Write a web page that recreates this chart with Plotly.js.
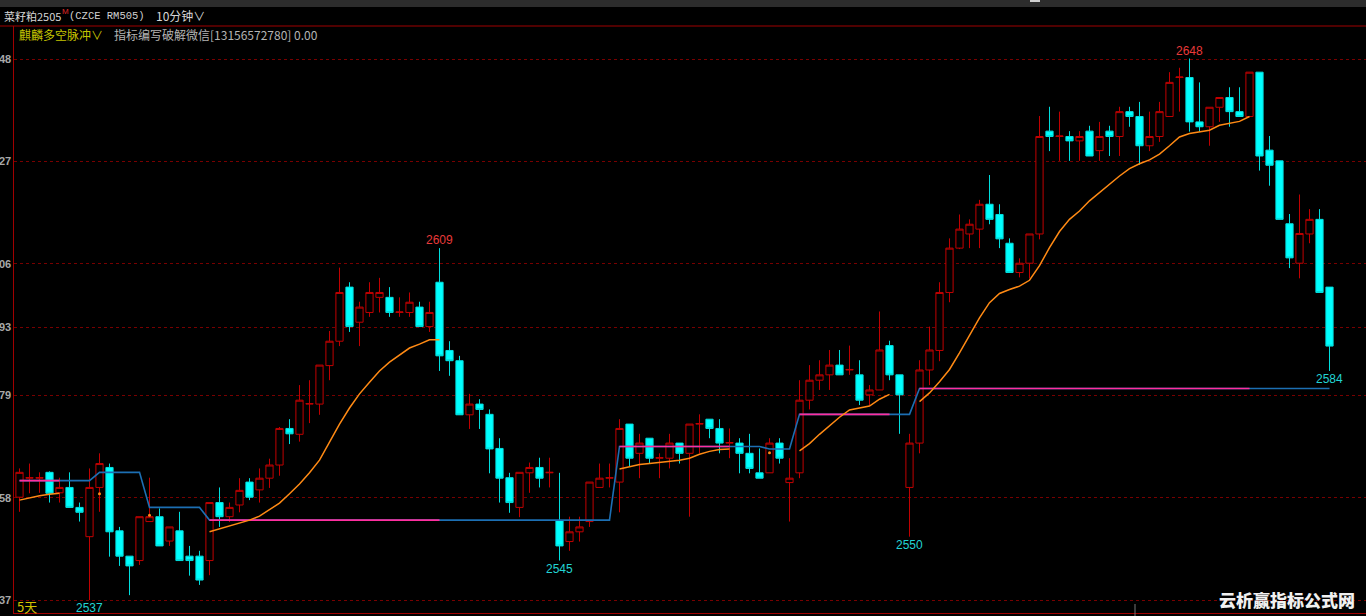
<!DOCTYPE html>
<html><head><meta charset="utf-8">
<script src="https://cdn.plot.ly/plotly-3.0.1.min.js"></script>
<style>html,body{margin:0;padding:0;background:#000;overflow:hidden}</style>
</head><body><div id="chart" style="width:1366px;height:616px"></div>
<script>
// ---- data ----
const openP = [2558.1,2562.0,2562.0,2563.2,2559.0,2560.1,2556.0,2550.0,2560.1,2564.2,
2551.2,2546.0,2545.1,2553.1,2554.1,2549.1,2551.2,2546.0,2546.0,2545.1,
2557.0,2554.1,2556.5,2561.2,2559.6,2562.0,2564.7,2572.2,2571.0,2577.2,
2577.2,2585.1,2590.1,2601.2,2594.0,2596.0,2599.1,2599.1,2596.0,2596.0,
2597.1,2593.1,2602.2,2588.2,2586.1,2575.0,2577.2,2575.1,2568.1,2562.1,
2556.0,2563.1,2564.2,2563.1,2553.3,2549.0,2551.0,2553.1,2560.1,2562.0,
2561.2,2573.1,2567.1,2570.2,2566.1,2566.1,2569.2,2567.1,2573.1,2574.1,
2572.2,2569.2,2569.2,2567.1,2563.1,2563.1,2569.2,2561.1,2563.1,2578.0,
2582.1,2583.2,2585.2,2584.2,2583.2,2579.1,2580.1,2589.2,2583.2,2560.1,
2569.2,2584.2,2588.2,2600.1,2609.2,2612.1,2613.1,2618.2,2616.1,2610.2,
2604.2,2606.1,2612.1,2633.2,2632.1,2632.1,2631.2,2633.2,2629.2,2633.2,
2632.1,2637.2,2636.2,2630.2,2632.1,2636.2,2644.2,2644.2,2635.1,2634.1,
2638.1,2640.1,2637.2,2636.2,2645.3,2629.3,2627.1,2614.2,2606.1,2612.1,
2615.1,2601.2];
const highP = [2564.0,2565.0,2563.2,2563.4,2562.1,2563.2,2557.0,2564.0,2567.1,2565.0,
2552.0,2546.0,2554.1,2562.1,2555.8,2552.0,2555.1,2548.1,2547.1,2557.0,
2560.1,2557.0,2562.0,2562.0,2564.0,2566.0,2572.5,2574.1,2581.1,2582.1,
2585.2,2592.2,2605.2,2602.2,2598.2,2602.2,2603.1,2601.2,2599.1,2600.1,
2598.2,2598.2,2609.2,2590.1,2587.1,2579.3,2578.2,2576.1,2570.2,2563.1,
2563.2,2565.2,2566.2,2566.2,2563.1,2554.1,2554.1,2561.2,2565.0,2565.0,
2574.1,2573.1,2571.1,2570.2,2567.1,2571.1,2569.2,2573.1,2575.1,2574.1,
2574.1,2572.2,2570.2,2571.1,2568.1,2570.2,2570.2,2566.1,2582.1,2585.2,
2586.2,2588.3,2588.3,2589.2,2586.2,2581.1,2596.2,2590.2,2583.2,2571.1,
2586.2,2593.1,2602.2,2611.2,2616.1,2615.1,2619.1,2624.2,2618.2,2611.2,
2607.1,2612.1,2636.3,2638.2,2637.2,2633.2,2633.2,2634.3,2635.1,2634.3,
2638.2,2638.2,2639.2,2637.2,2639.2,2645.3,2646.2,2648.1,2643.2,2638.1,
2640.1,2642.2,2642.2,2645.3,2645.3,2632.2,2627.1,2616.2,2620.2,2617.2,
2617.2,2601.2];
const lowP = [2555.1,2558.9,2559.0,2557.0,2557.0,2556.0,2553.1,2537.0,2555.1,2545.9,
2544.0,2538.0,2544.2,2553.1,2548.1,2548.1,2545.1,2542.0,2540.1,2542.1,
2552.0,2553.0,2555.0,2557.5,2557.0,2560.0,2562.5,2569.0,2569.5,2573.3,
2575.0,2582.1,2589.1,2592.0,2589.1,2595.1,2596.0,2595.1,2595.1,2595.1,
2593.1,2592.0,2584.0,2583.0,2575.0,2572.1,2572.1,2563.0,2557.0,2554.9,
2554.0,2559.0,2560.1,2560.1,2545.1,2547.1,2549.0,2552.0,2560.1,2560.1,
2555.0,2564.4,2562.0,2565.0,2562.0,2564.0,2565.0,2554.1,2567.1,2570.2,
2567.1,2566.1,2563.0,2563.0,2562.0,2563.1,2565.0,2553.1,2562.0,2576.1,
2580.1,2580.1,2583.2,2583.2,2577.0,2577.0,2580.1,2582.1,2571.1,2550.0,
2567.1,2581.1,2586.0,2598.1,2609.0,2609.2,2609.2,2614.1,2609.2,2604.2,
2603.2,2603.0,2611.0,2629.1,2627.1,2627.1,2627.1,2628.1,2627.1,2628.1,
2628.1,2634.1,2626.3,2629.1,2631.0,2636.2,2637.2,2633.1,2633.1,2630.2,
2635.1,2634.1,2636.2,2636.2,2625.1,2622.0,2615.1,2605.1,2603.0,2610.2,
2600.1,2584.0];
const closeP = [2563.2,2562.1,2562.1,2558.9,2560.1,2556.0,2555.0,2560.1,2565.0,2551.0,
2546.0,2544.0,2554.1,2554.1,2548.1,2552.0,2545.1,2545.1,2541.1,2557.0,
2554.1,2556.0,2559.5,2558.1,2562.0,2564.7,2572.2,2571.1,2578.0,2577.3,
2585.2,2590.1,2600.1,2593.1,2597.1,2600.1,2600.1,2596.0,2596.1,2598.1,
2593.1,2596.0,2587.1,2586.1,2575.0,2577.2,2576.1,2568.0,2562.0,2557.0,
2563.2,2564.2,2562.0,2563.2,2548.1,2551.0,2552.0,2561.2,2562.0,2562.1,
2572.2,2566.1,2569.2,2566.1,2566.2,2569.2,2567.1,2573.1,2573.2,2572.2,
2569.2,2569.3,2567.1,2564.0,2562.0,2569.2,2566.1,2562.0,2578.0,2582.1,
2583.2,2585.2,2583.2,2584.3,2578.0,2580.1,2588.3,2583.2,2579.1,2569.2,
2584.2,2588.3,2600.1,2609.2,2613.1,2614.1,2618.2,2615.1,2611.1,2604.2,
2606.1,2612.1,2632.1,2632.1,2632.2,2631.2,2632.1,2628.1,2632.1,2632.1,
2637.2,2636.2,2630.2,2632.1,2637.2,2643.2,2644.3,2635.1,2634.1,2638.1,
2640.1,2637.2,2636.2,2645.3,2628.1,2626.2,2615.1,2607.2,2612.2,2615.1,
2600.1,2589.1];
// step (stop) line
const stopLine = [2561.5,2561.5,2561.5,2561.5,2561.5,2561.5,2561.5,2561.5,2563.2,2563.2,
2563.2,2563.2,2563.2,2556.0,2556.0,2556.0,2556.0,2556.0,2556.0,2553.4,
2553.4,2553.4,2553.4,2553.4,2553.4,2553.4,2553.4,2553.4,2553.4,2553.4,
2553.4,2553.4,2553.4,2553.4,2553.4,2553.4,2553.4,2553.4,2553.4,2553.4,
2553.4,2553.4,2553.4,2553.4,2553.4,2553.4,2553.4,2553.4,2553.4,2553.4,
2553.4,2553.4,2553.4,2553.4,2553.4,2553.4,2553.4,2553.4,2553.4,2553.4,
2568.5,2568.5,2568.5,2568.5,2568.5,2568.5,2568.5,2568.5,2568.5,2568.5,
2568.5,2568.5,2568.5,2568.5,2568.5,2568.0,2568.0,2568.0,2575.1,2575.1,
2575.1,2575.1,2575.1,2575.1,2575.1,2575.1,2575.1,2575.1,2575.1,2575.1,
2580.4,2580.4,2580.4,2580.4,2580.4,2580.4,2580.4,2580.4,2580.4,2580.4,
2580.4,2580.4,2580.4,2580.4,2580.4,2580.4,2580.4,2580.4,2580.4,2580.4,
2580.4,2580.4,2580.4,2580.4,2580.4,2580.4,2580.4,2580.4,2580.4,2580.4,
2580.4,2580.4,2580.4,2580.4,2580.4,2580.4,2580.4,2580.4,2580.4,2580.4,
2580.4,2580.4];
// trend line, shown only in the long state (null = hidden)
const maLine = [2557.5,2558.0,2558.4,2558.7,2558.9,null,null,null,2558.8,null,
null,null,null,2554.4,null,null,null,null,null,2551.0,
2551.6,2552.2,2552.8,2553.4,2554.2,2555.5,2556.9,2558.8,2560.8,2563.1,
2565.7,2569.4,2573.1,2576.4,2579.3,2581.7,2584.0,2585.8,2587.3,2588.7,
2589.5,2590.4,2590.4,null,null,null,null,null,null,null,
null,null,null,null,null,null,null,null,null,null,
2563.9,2564.3,2564.8,2565.0,2565.2,2565.4,2565.7,2566.1,2566.9,2567.5,
2567.9,2568.0,null,null,null,2567.2,null,null,2567.6,2569.1,
2571.0,2572.8,2574.5,2576.0,2576.4,2576.8,2578.2,2579.2,null,null,
2577.7,2579.5,2581.8,2584.3,2587.7,2591.4,2594.9,2598.0,2599.9,2600.7,
2601.4,2602.6,2605.6,2609.3,2612.6,2615.1,2616.8,2618.9,2620.6,2622.3,
2624.0,2625.5,2626.5,2627.3,2628.5,2630.2,2632.0,2632.7,2633.1,2633.4,
2634.4,2634.8,2635.2,2636.2,null,null,null,null,null,null,
null,null];
const tickVals = [2648,2627,2606,2593,2579,2558,2537];
const tickText = ['48','27','06','93','79','58','37'];
const highMarks = [{i:117,v:2648.1,t:'2648'},{i:42,v:2609.2,t:'2609'}];
const lowMarks = [{i:54,v:2545.1,t:'2545'},{i:89,v:2550.0,t:'2550'},{i:7,v:2537.0,t:'2537'},{i:131,v:2584.0,t:'2584'}];

// ---- build ----
const idx = openP.map((_, i) => i);
const magenta = stopLine.map((v, i) => maLine[i] === null ? null : v);
const isoX = [], isoY = [];
maLine.forEach((v, i) => {
  if (v !== null && (i === 0 || maLine[i-1] === null) && (i === maLine.length-1 || maLine[i+1] === null)) { isoX.push(i); isoY.push(v); }
});

const RED = '#c00000';
const traces = [
  {type:'candlestick', x:idx, open:openP, high:highP, low:lowP, close:closeP,
   increasing:{line:{color:RED, width:1}, fillcolor:'#000000'},
   decreasing:{line:{color:'#00dede', width:1}, fillcolor:'#00ffff'},
   whiskerwidth:0, hoverinfo:'skip'},
  {type:'scatter', mode:'lines', x:idx, y:stopLine, line:{color:'#1c6fb3', width:1.6}, hoverinfo:'skip'},
  {type:'scatter', mode:'lines', x:idx, y:magenta, line:{color:'#ff2e9e', width:1.6}, hoverinfo:'skip', connectgaps:false},
  {type:'scatter', mode:'lines', x:idx, y:maLine, line:{color:'#ff8a14', width:1.5}, hoverinfo:'skip', connectgaps:false},
  {type:'scatter', mode:'markers', x:isoX, y:isoY, marker:{color:'#ff8a14', size:3}, hoverinfo:'skip'}
];

const PL = 14, PT = 26, PW = 1352, PH = 587;
const px = x => (x - PL) / PW;
const py = y => (PT + PH - y) / PH;
const cjk = '"Noto Sans CJK SC", "Noto Sans", sans-serif';

const ann = [];
function txt(x, y, text, color, size, family, anchor, weight) {
  ann.push({xref:'paper', yref:'paper', x:px(x), y:py(y), text:text, showarrow:false,
    xanchor:anchor || 'left', yanchor:'middle', font:{color:color, size:size, family:family, weight:weight || 'normal'}});
}
txt(2, 16, '菜籽粕2505', '#d6d6d6', 11, cjk);
txt(60, 12, 'M', '#e02828', 8, 'Liberation Sans');
txt(67, 16, '(CZCE RM505)', '#d0d0d0', 10.5, '"Liberation Mono", monospace');
txt(154, 16, '10分钟∨', '#d6d6d6', 12, cjk);
txt(17, 34, '麒麟多空脉冲∨', '#c4c400', 12, cjk);
txt(112, 34, '指标编写破解微信[13156572780] 0.00', '#b4b4b4', 12, cjk);
txt(15, 606, '5天', '#d2c200', 13, cjk);
txt(1287, 599, '云析赢指标公式网', '#f0f0f0', 17, cjk, 'center', 900);

// y tick labels (only their last two digits are visible in the original)
tickVals.forEach((v, k) => ann.push({xref:'paper', yref:'y', x:px(13), y:v, text:tickText[k], showarrow:false,
  xanchor:'right', yanchor:'middle', xshift:0, font:{color:'#a8a8a8', size:11, family:'Liberation Sans', weight:'bold'}}));

highMarks.forEach(m => ann.push({xref:'x', yref:'y', x:m.i, y:m.v, text:m.t, showarrow:false,
  yanchor:'middle', yshift:8, font:{color:'#e83a3a', size:12, family:'Liberation Sans'}}));
lowMarks.forEach(m => ann.push({xref:'x', yref:'y', x:m.i, y:m.v, text:m.t, showarrow:false,
  yanchor:'middle', yshift:-8, font:{color:'#22d4d4', size:12, family:'Liberation Sans'}}));

const shapes = [
  {type:'rect', xref:'paper', yref:'paper', x0:px(0), x1:1, y0:py(7), y1:py(0), fillcolor:'#2c2c2c', line:{width:0}, layer:'below'},
  {type:'line', xref:'paper', yref:'paper', x0:px(0), x1:1, y0:py(26), y1:py(26), line:{color:'#a00000', width:1}},
  {type:'line', xref:'paper', yref:'paper', x0:px(1030), x1:px(1040), y0:py(1), y1:py(1), line:{color:'#cfcfcf', width:2}},
  {type:'line', xref:'paper', yref:'paper', x0:px(1135), x1:px(1135), y0:py(604), y1:py(616), line:{color:'#777777', width:1}}
];

const layout = {
  width:1366, height:616, margin:{l:PL, r:0, t:PT, b:616-PT-PH, pad:0},
  paper_bgcolor:'#000000', plot_bgcolor:'#000000', showlegend:false,
  boxgap:0.28, boxgroupgap:0,
  xaxis:{range:[-0.55, 134.65], showgrid:false, zeroline:false, showticklabels:false, ticks:'',
    showline:true, linecolor:'#a00000', linewidth:1, rangeslider:{visible:false}, fixedrange:true},
  yaxis:{range:[2534.34, 2654.77], tickmode:'array', tickvals:tickVals, ticktext:tickText,
    showgrid:true, gridcolor:'#780000', griddash:'dot', gridwidth:1, zeroline:false, ticks:'',
    showticklabels:false, showline:true, linecolor:'#a00000', linewidth:1, fixedrange:true},
  annotations:ann, shapes:shapes
};
Plotly.newPlot('chart', traces, layout, {staticPlot:true, displayModeBar:false});
</script>
</body></html>
